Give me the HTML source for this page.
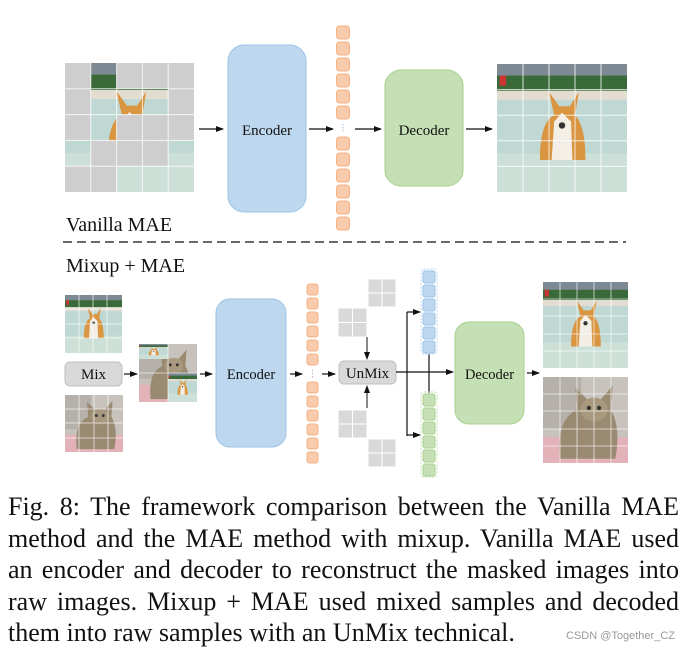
<!DOCTYPE html>
<html><head><meta charset="utf-8"><style>
html,body{margin:0;padding:0;background:#fff;width:689px;height:653px;overflow:hidden;position:relative}
.cap{position:absolute;left:8px;top:491px;width:671px;font:26px/31.6px "Liberation Serif",serif;color:#111}
.cap div{text-align:justify;text-align-last:justify;white-space:nowrap}
.cap div.l{text-align-last:left}
.wm{position:absolute;left:566px;top:630px;font:11px "Liberation Sans",sans-serif;color:#999}
</style></head><body>
<svg width="689" height="653" style="position:absolute;left:0;top:0">
<defs>
<marker id="ar" markerWidth="8" markerHeight="6" refX="7" refY="3" orient="auto" markerUnits="userSpaceOnUse"><path d="M0,0 L8,3 L0,6 z" fill="#111"/></marker>
<symbol id="dog" viewBox="0 0 100 100" preserveAspectRatio="none">
<rect width="100" height="100" fill="#c9dcd6"/>
<rect width="100" height="12" fill="#7d8a94"/>
<rect y="9" width="100" height="12" fill="#3a6a3a"/>
<rect x="2" y="9" width="5" height="8" fill="#c33"/>
<rect y="21" width="100" height="7" fill="#e2ddd0"/>
<rect y="28" width="100" height="72" fill="#bfd8d4"/>
<rect y="70" width="100" height="30" fill="#cde0d8"/>
<path d="M33,75 Q33,45 44,40 L40,22 L48,33 L56,33 L63,22 L60,40 Q68,48 68,75 z" fill="#d9953f"/>
<path d="M44,45 L50,38 L57,45 L58,75 L42,75 z" fill="#f3eee6"/>
<circle cx="50" cy="48" r="2.5" fill="#333"/>
</symbol>
<symbol id="cat" viewBox="0 0 100 100" preserveAspectRatio="none">
<rect width="100" height="100" fill="#c7c2bb"/>
<rect x="0" width="45" height="60" fill="#b5b0aa"/>
<rect y="70" width="100" height="30" fill="#e3b2b8"/>
<path d="M20,95 Q15,50 40,38 L38,12 L52,26 L68,26 L82,10 L80,38 Q92,60 85,95 z" fill="#9a8a72"/>
<ellipse cx="60" cy="38" rx="16" ry="14" fill="#a8987e"/>
<circle cx="54" cy="36" r="2.5" fill="#333"/><circle cx="66" cy="36" r="2.5" fill="#333"/>
</symbol>
</defs>
<g font-family="Liberation Serif, serif" fill="#111">
<use href="#dog" x="65" y="63" width="129" height="129"/>
<g fill="#cecece">
<rect x="65" y="63" width="25.8" height="25.8"/><rect x="116.6" y="63" width="77.4" height="25.8"/>
<rect x="65" y="88.8" width="25.8" height="25.8"/><rect x="168.2" y="88.8" width="25.8" height="25.8"/>
<rect x="65" y="114.6" width="25.8" height="25.8"/><rect x="116.6" y="114.6" width="77.4" height="25.8"/>
<rect x="90.8" y="140.4" width="77.4" height="25.8"/>
<rect x="65" y="166.2" width="51.6" height="25.8"/>
</g>
<g stroke="#fff" stroke-width="1" opacity=".8">
<path d="M90.8,63V192M116.6,63V192M142.4,63V192M168.2,63V192M65,88.8H194M65,114.6H194M65,140.4H194M65,166.2H194"/>
</g>
<line x1="199" y1="129" x2="223" y2="129" stroke="#111" stroke-width="1.3" marker-end="url(#ar)"/>
<rect x="228" y="45" width="78" height="167" rx="16" fill="#bdd7ee" stroke="#9dc3e6"/>
<text x="267" y="135" font-size="15" text-anchor="middle">Encoder</text>
<line x1="309" y1="129" x2="333" y2="129" stroke="#111" stroke-width="1.3" marker-end="url(#ar)"/>
<g fill="#f8cbad" stroke="#f4b183">
<rect x="336.5" y="26" width="13" height="13" rx="3"/><rect x="336.5" y="42" width="13" height="13" rx="3"/><rect x="336.5" y="58" width="13" height="13" rx="3"/><rect x="336.5" y="74" width="13" height="13" rx="3"/><rect x="336.5" y="90" width="13" height="13" rx="3"/><rect x="336.5" y="106" width="13" height="13" rx="3"/>
<rect x="336.5" y="137" width="13" height="13" rx="3"/><rect x="336.5" y="153" width="13" height="13" rx="3"/><rect x="336.5" y="169" width="13" height="13" rx="3"/><rect x="336.5" y="185" width="13" height="13" rx="3"/><rect x="336.5" y="201" width="13" height="13" rx="3"/><rect x="336.5" y="217" width="13" height="13" rx="3"/>
</g>
<line x1="343" y1="124" x2="343" y2="133" stroke="#9dc3e6" stroke-dasharray="1.5,1.5"/>
<line x1="355" y1="129" x2="381" y2="129" stroke="#111" stroke-width="1.3" marker-end="url(#ar)"/>
<rect x="385" y="70" width="78" height="116" rx="16" fill="#c5e0b4" stroke="#a9d18e"/>
<text x="424" y="135" font-size="15" text-anchor="middle">Decoder</text>
<line x1="466" y1="129" x2="492" y2="129" stroke="#111" stroke-width="1.3" marker-end="url(#ar)"/>
<use href="#dog" x="497" y="64" width="130" height="128"/>
<g stroke="#fff" stroke-width="1" opacity=".8">
<path d="M523,64V192M549,64V192M575,64V192M601,64V192M497,89.6H627M497,115.2H627M497,140.8H627M497,166.4H627"/>
</g>
<text x="66" y="231" font-size="20">Vanilla MAE</text>
<line x1="63" y1="242" x2="626" y2="242" stroke="#111" stroke-width="1.3" stroke-dasharray="9,5"/>
<text x="66" y="272" font-size="20">Mixup + MAE</text>
<use href="#dog" x="65" y="295" width="57" height="58"/>
<g stroke="#fff" stroke-width=".8" opacity=".8"><path d="M79,295V353M93,295V353M107,295V353M65,309H122M65,324H122M65,338H122"/></g>
<rect x="65" y="362" width="57" height="24" rx="5" fill="#d9d9d9" stroke="#bfbfbf"/>
<text x="93.5" y="379" font-size="15" text-anchor="middle">Mix</text>
<use href="#cat" x="65" y="395" width="58" height="57"/>
<g stroke="#fff" stroke-width=".8" opacity=".8"><path d="M79,395V452M94,395V452M108,395V452M65,409H123M65,423H123M65,438H123"/></g>
<line x1="124" y1="374" x2="137" y2="374" stroke="#111" stroke-width="1.2" marker-end="url(#ar)"/>
<use href="#cat" x="139" y="344" width="58" height="58"/>
<use href="#dog" x="139" y="344" width="29" height="15"/>
<use href="#dog" x="168" y="373" width="29" height="29"/>
<g stroke="#fff" stroke-width=".8" opacity=".8"><path d="M168,344V402M139,373H197"/></g>
<line x1="200" y1="374" x2="212" y2="374" stroke="#111" stroke-width="1.2" marker-end="url(#ar)"/>
<rect x="216" y="299" width="70" height="148" rx="14" fill="#bdd7ee" stroke="#9dc3e6"/>
<text x="251" y="379" font-size="14.5" text-anchor="middle">Encoder</text>
<line x1="290" y1="374" x2="302" y2="374" stroke="#111" stroke-width="1.2" marker-end="url(#ar)"/>
<g fill="#f8cbad" stroke="#f4b183">
<rect x="307" y="284" width="11" height="11" rx="2.5"/><rect x="307" y="298" width="11" height="11" rx="2.5"/><rect x="307" y="312" width="11" height="11" rx="2.5"/><rect x="307" y="326" width="11" height="11" rx="2.5"/><rect x="307" y="340" width="11" height="11" rx="2.5"/><rect x="307" y="354" width="11" height="11" rx="2.5"/>
<rect x="307" y="382" width="11" height="11" rx="2.5"/><rect x="307" y="396" width="11" height="11" rx="2.5"/><rect x="307" y="410" width="11" height="11" rx="2.5"/><rect x="307" y="424" width="11" height="11" rx="2.5"/><rect x="307" y="438" width="11" height="11" rx="2.5"/><rect x="307" y="452" width="11" height="11" rx="2.5"/>
</g>
<line x1="312.5" y1="370" x2="312.5" y2="378" stroke="#bbb" stroke-dasharray="1.5,1.5"/>
<line x1="322" y1="374" x2="335" y2="374" stroke="#111" stroke-width="1.2" marker-end="url(#ar)"/>
<g fill="#d9d9d9" stroke="#fff" stroke-width="1">
<rect x="368" y="279" width="14" height="14"/><rect x="382" y="279" width="14" height="14"/><rect x="368" y="293" width="14" height="14"/><rect x="382" y="293" width="14" height="14"/>
<rect x="338" y="308" width="14.5" height="14.5"/><rect x="352.5" y="308" width="14.5" height="14.5"/><rect x="338" y="322.5" width="14.5" height="14.5"/><rect x="352.5" y="322.5" width="14.5" height="14.5"/>
<rect x="338" y="410" width="14.5" height="14"/><rect x="352.5" y="410" width="14.5" height="14"/><rect x="338" y="424" width="14.5" height="14"/><rect x="352.5" y="424" width="14.5" height="14"/>
<rect x="368" y="439" width="14" height="14"/><rect x="382" y="439" width="14" height="14"/><rect x="368" y="453" width="14" height="14"/><rect x="382" y="453" width="14" height="14"/>
</g>
<line x1="367" y1="337" x2="367" y2="359" stroke="#111" stroke-width="1" marker-end="url(#ar)"/>
<line x1="367" y1="408" x2="367" y2="386" stroke="#111" stroke-width="1" marker-end="url(#ar)"/>
<rect x="339" y="361" width="57" height="23" rx="5" fill="#d9d9d9" stroke="#bfbfbf"/>
<text x="367.5" y="378" font-size="15" text-anchor="middle">UnMix</text>
<path d="M396,372H407M407,312V436" stroke="#111" stroke-width="1.2" fill="none"/>
<line x1="407" y1="312" x2="420" y2="312" stroke="#111" stroke-width="1.2" marker-end="url(#ar)"/>
<line x1="407" y1="435" x2="420" y2="435" stroke="#111" stroke-width="1.2" marker-end="url(#ar)"/>
<line x1="429" y1="354" x2="429" y2="393" stroke="#111" stroke-width="1.2"/>
<line x1="407" y1="372" x2="453" y2="372" stroke="#111" stroke-width="1.2" marker-end="url(#ar)"/>
<rect x="421" y="269" width="16" height="85" rx="3" fill="none" stroke="#bdd7ee" stroke-dasharray="2,1.5"/>
<g fill="#bdd7ee" stroke="#9dc3e6">
<rect x="423" y="271" width="12" height="12" rx="2"/><rect x="423" y="285" width="12" height="12" rx="2"/><rect x="423" y="299" width="12" height="12" rx="2"/><rect x="423" y="313" width="12" height="12" rx="2"/><rect x="423" y="327" width="12" height="12" rx="2"/><rect x="423" y="341" width="12" height="12" rx="2"/>
</g>
<rect x="421" y="392" width="16" height="85" rx="3" fill="none" stroke="#c5e0b4" stroke-dasharray="2,1.5"/>
<g fill="#c5e0b4" stroke="#a9d18e">
<rect x="423" y="394" width="12" height="12" rx="2"/><rect x="423" y="408" width="12" height="12" rx="2"/><rect x="423" y="422" width="12" height="12" rx="2"/><rect x="423" y="436" width="12" height="12" rx="2"/><rect x="423" y="450" width="12" height="12" rx="2"/><rect x="423" y="464" width="12" height="12" rx="2"/>
</g>
<rect x="455" y="322" width="69" height="102" rx="14" fill="#c5e0b4" stroke="#a9d18e"/>
<text x="489.5" y="379" font-size="14.5" text-anchor="middle">Decoder</text>
<line x1="527" y1="373" x2="539" y2="373" stroke="#111" stroke-width="1.2" marker-end="url(#ar)"/>
<use href="#dog" x="543" y="282" width="85" height="86"/>
<g stroke="#fff" stroke-width=".8" opacity=".8"><path d="M560,282V368M577,282V368M594,282V368M611,282V368M543,299H628M543,316H628M543,334H628M543,351H628"/></g>
<use href="#cat" x="543" y="377" width="85" height="86"/>
<g stroke="#fff" stroke-width=".8" opacity=".8"><path d="M560,377V463M577,377V463M594,377V463M611,377V463M543,394H628M543,411H628M543,429H628M543,446H628"/></g>
</g>
</svg>
<div class="cap">
<div>Fig. 8: The framework comparison between the Vanilla MAE</div>
<div>method and the MAE method with mixup. Vanilla MAE used</div>
<div>an encoder and decoder to reconstruct the masked images into</div>
<div>raw images. Mixup + MAE used mixed samples and decoded</div>
<div class="l">them into raw samples with an UnMix technical.</div>
</div>
<div class="wm">CSDN @Together_CZ</div>
</body></html>
